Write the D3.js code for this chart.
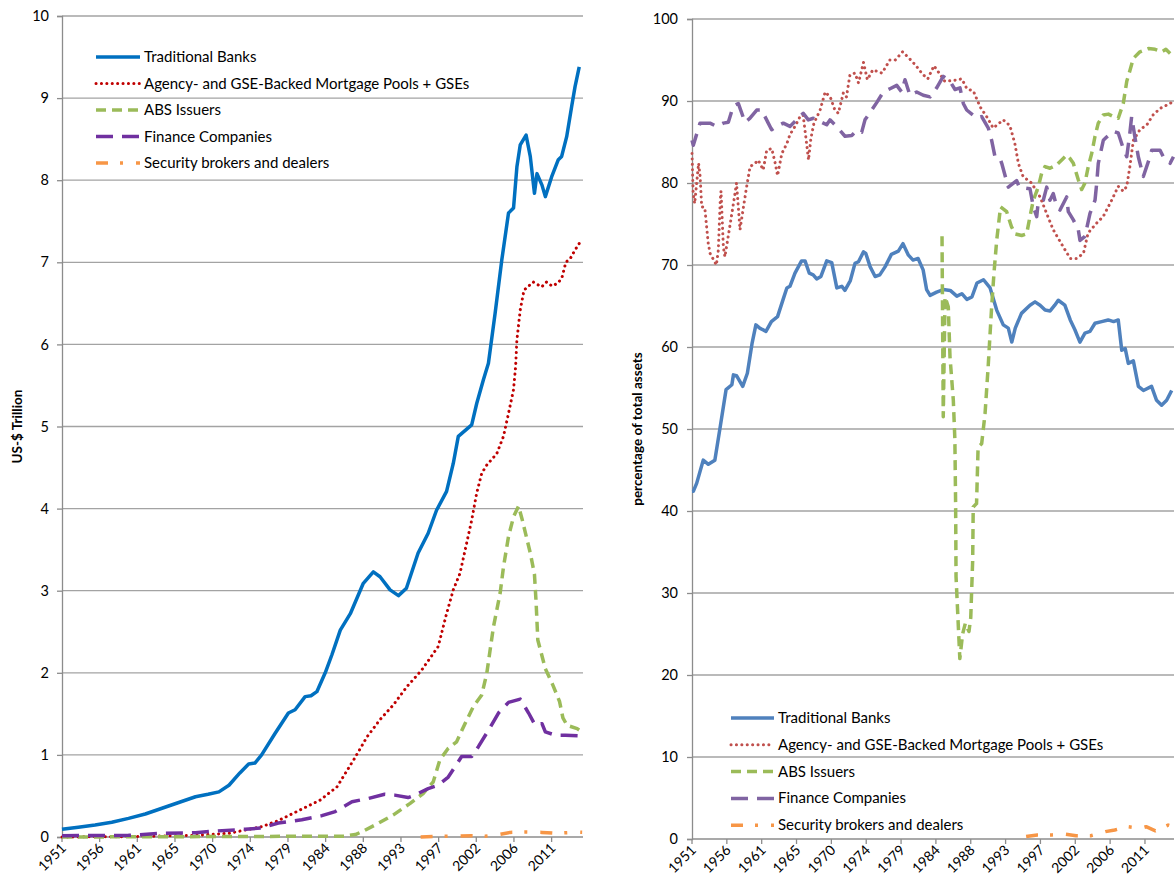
<!DOCTYPE html>
<html>
<head>
<meta charset="utf-8">
<script src="https://cdn.jsdelivr.net/npm/d3@7"></script>
<style>
  body { margin: 0; background: #fff; }
  svg text { font-family: Lato, "Liberation Sans", sans-serif; fill: #000; }
</style>
</head>
<body>
<svg id="chart" width="1176" height="886"></svg>
<script>
// Données : [année, valeur]
var seriesNames = ["Traditional Banks", "Agency- and GSE-Backed Mortgage Pools + GSEs",
  "ABS Issuers", "Finance Companies", "Security brokers and dealers"];
var xTickLabels = ["1951", "1956", "1961", "1965", "1970", "1974", "1979", "1984",
  "1988", "1993", "1997", "2002", "2006", "2011"];

// panneau gauche, en milliers de milliards de dollars
var banksLevel = [[1951.75,0.094],[1953.7,0.12],[1955.7,0.146],[1957.7,0.18],[1959.7,0.227],[1961.7,0.28],
  [1963.7,0.35],[1965.7,0.42],[1967.7,0.49],[1969.2,0.52],[1970.5,0.55],[1971.7,0.63],[1973.0,0.78],
  [1974.05,0.89],[1974.8,0.9],[1975.6,1.0],[1977.2,1.26],[1978.8,1.51],[1979.6,1.55],[1980.8,1.71],
  [1981.5,1.72],[1982.2,1.77],[1983.2,2.0],[1984.0,2.22],[1985.0,2.52],[1986.2,2.72],[1987.75,3.09],
  [1988.95,3.23],[1989.75,3.17],[1990.95,3.01],[1991.95,2.94],[1992.9,3.03],[1994.3,3.46],[1995.5,3.70],
  [1996.5,3.98],[1997.7,4.21],[1998.5,4.55],[1999.1,4.88],[2000.7,5.02],[2001.3,5.28],[2002.1,5.57],
  [2002.7,5.77],[2003.5,6.38],[2004.3,7.03],[2005.1,7.60],[2005.7,7.66],[2006.1,8.16],[2006.5,8.43],
  [2007.2,8.55],[2007.7,8.29],[2008.2,7.84],[2008.5,8.08],[2009.1,7.94],[2009.5,7.80],[2010.25,8.04],
  [2011.05,8.25],[2011.45,8.29],[2012.05,8.53],[2012.65,8.90],[2013.05,9.14],[2013.55,9.38]];
var agencyLevel = [[1951.75,0.0],[1960,0.005],[1967.7,0.02],[1971.7,0.045],[1975.6,0.125],[1977.6,0.2],
  [1980.2,0.33],[1982.6,0.45],[1984.6,0.61],[1986.6,0.94],[1988.2,1.22],[1989.75,1.43],[1991.35,1.61],
  [1992.95,1.83],[1994.7,2.03],[1996.7,2.32],[1997.7,2.72],[1998.5,3.01],[1999.3,3.21],[2000.1,3.58],
  [2000.7,3.86],[2001.3,4.19],[2001.9,4.43],[2002.5,4.53],[2003.7,4.67],[2004.5,4.88],[2005.1,5.16],
  [2005.7,5.45],[2005.95,5.73],[2006.1,6.05],[2006.5,6.42],[2006.95,6.66],[2008.05,6.76],[2009.05,6.70],
  [2009.65,6.76],[2010.3,6.71],[2011.05,6.75],[2011.5,6.82],[2011.95,7.0],[2012.5,7.05],[2013.05,7.15],
  [2013.55,7.23]];
var absLevel = [[1951.75,0],[1985.5,0.01],[1986.8,0.03],[1987.6,0.065],[1989.6,0.17],[1991.35,0.27],
  [1993.35,0.41],[1994.9,0.53],[1996.1,0.67],[1996.9,0.94],[1997.9,1.08],[1998.9,1.16],[1999.9,1.38],
  [2000.9,1.59],[2001.9,1.73],[2002.5,1.99],[2003.3,2.56],[2004.1,2.97],[2004.5,3.29],[2005.1,3.66],
  [2005.7,3.90],[2006.3,4.03],[2006.7,3.88],[2007.7,3.46],[2008.2,3.2],[2008.4,2.85],[2008.6,2.4],
  [2009.5,2.05],[2010.4,1.85],[2011.2,1.65],[2011.6,1.45],[2012.1,1.36],[2013.3,1.32],[2013.6,1.30]];
var financeLevel = [[1951.75,0.016],[1959.7,0.02],[1963.7,0.045],[1967.7,0.053],[1970.1,0.073],
  [1973.65,0.094],[1975.6,0.11],[1977.6,0.17],[1980.4,0.21],[1982.8,0.26],[1984.4,0.31],[1986.4,0.43],
  [1988.4,0.47],[1990.3,0.52],[1991.5,0.51],[1993.1,0.48],[1993.9,0.51],[1995.5,0.59],[1996.7,0.63],
  [1997.9,0.73],[1999.5,0.98],[2000.7,0.98],[2001.5,1.10],[2002.7,1.30],[2003.9,1.51],[2005.1,1.64],
  [2006.5,1.68],[2007.5,1.51],[2008.3,1.36],[2009.1,1.38],[2009.5,1.28],[2010.7,1.24],[2011.9,1.24],
  [2013.7,1.23]];
var brokersLevel = [[1994.6,0.0],[1997.5,0.01],[2000.7,0.015],[2002.3,0.01],[2003.9,0.03],[2005.3,0.056],
  [2007.1,0.06],[2009.1,0.056],[2010.7,0.045],[2013.3,0.06],[2013.9,0.058]];

// panneau droit, en pourcentage des actifs totaux
var banksShare = [[1951.75,42.4],[1951.92,42.4],[1952.36,43.4],[1953.2,46.2],[1953.86,45.7],[1954.7,46.2],
  [1955.4,50.3],[1956.15,54.8],[1956.9,55.4],[1957.1,56.6],[1957.5,56.5],[1958.3,55.2],[1958.9,56.8],
  [1959.5,60.4],[1960.0,62.7],[1960.5,62.3],[1961.3,61.9],[1962.0,63.1],[1962.8,63.7],[1963.55,65.9],
  [1964.0,67.2],[1964.4,67.4],[1965.05,69.0],[1965.9,70.5],[1966.35,70.5],[1966.9,69.0],[1967.4,68.8],
  [1967.85,68.3],[1968.4,68.6],[1969.15,70.5],[1969.8,70.3],[1970.45,67.2],[1971.1,67.4],[1971.5,66.9],
  [1972.2,68.1],[1972.8,70.2],[1973.25,70.4],[1973.9,71.6],[1974.2,71.4],[1974.75,69.8],[1975.4,68.6],
  [1976.0,68.8],[1976.7,69.8],[1977.5,71.3],[1978.4,71.7],[1979.0,72.6],[1979.7,71.2],[1980.3,70.6],
  [1980.95,70.8],[1981.6,69.4],[1982.05,67.0],[1982.5,66.3],[1983.35,66.7],[1984.2,67.0],[1985.1,66.9],
  [1985.95,66.2],[1986.6,66.5],[1987.25,65.8],[1987.9,66.1],[1988.55,67.8],[1989.4,68.2],[1990.25,67.2],
  [1991.1,64.5],[1991.95,62.7],[1992.6,62.3],[1993.05,60.6],[1993.5,62.3],[1994.3,64.1],[1995.4,65.1],
  [1996.05,65.5],[1996.7,65.1],[1997.35,64.5],[1998.0,64.4],[1998.6,65.1],[1999.05,65.7],[1999.9,65.1],
  [2000.6,63.3],[2001.2,62.1],[2001.85,60.6],[2002.5,61.7],[2003.15,61.9],[2003.8,62.9],[2004.65,63.1],
  [2005.5,63.3],[2006.2,63.1],[2006.8,63.3],[2007.25,59.6],[2007.7,59.8],[2008.1,58.0],[2008.75,58.3],
  [2009.4,55.2],[2010.05,54.7],[2011.1,55.2],[2011.75,53.5],[2012.4,52.9],[2013.05,53.5],[2013.7,54.7]];
var agencyShare = [[1951.75,83.6],[1951.9,78.7],[1952.1,77.5],[1952.6,82.4],[1952.8,80.8],[1953.0,77.1],
  [1953.4,77.0],[1953.85,72.6],[1954.1,71.4],[1954.9,70.0],[1955.15,71.8],[1955.4,77.9],[1955.5,79.0],
  [1955.8,72.2],[1956.0,71.0],[1956.7,75.1],[1957.3,78.7],[1957.5,80.0],[1957.95,74.3],[1958.4,77.1],
  [1958.8,79.5],[1959.25,82.0],[1959.9,82.4],[1960.3,82.8],[1960.95,81.6],[1961.4,84.0],[1962.05,84.2],
  [1962.5,82.4],[1962.8,80.9],[1963.35,83.6],[1964.0,84.8],[1964.4,85.9],[1965.05,86.9],[1965.7,88.1],
  [1966.1,88.3],[1966.5,85.2],[1966.8,82.8],[1967.1,85.4],[1967.5,87.3],[1968.3,88.9],[1968.95,91.1],
  [1969.6,90.5],[1970.2,88.9],[1970.65,88.5],[1971.3,91.0],[1971.7,90.5],[1972.15,93.2],[1972.8,93.4],
  [1973.25,92.2],[1973.9,94.7],[1974.4,92.6],[1975.1,93.8],[1976.3,93.4],[1977.3,95.0],[1978.0,95.0],
  [1978.95,96.0],[1979.8,95.2],[1980.6,94.4],[1981.5,93.3],[1982.2,92.7],[1983.0,94.3],[1983.6,93.5],
  [1984.4,92.4],[1985.5,92.5],[1986.6,92.7],[1987.25,91.5],[1988.1,91.2],[1988.95,89.3],[1989.8,88.1],
  [1990.65,86.7],[1991.95,87.7],[1992.8,87.0],[1993.45,84.8],[1993.9,82.4],[1994.5,80.8],[1995.6,80.0],
  [1996.7,78.3],[1997.55,76.3],[1998.4,74.3],[1999.7,72.2],[2000.6,70.8],[2001.4,70.8],[2002.3,71.4],
  [2002.9,73.9],[2004.0,75.1],[2004.85,75.9],[2005.95,77.9],[2006.8,79.6],[2007.45,79.0],[2007.9,79.6],
  [2008.3,82.0],[2008.75,85.2],[2009.6,86.5],[2010.5,87.1],[2011.3,88.3],[2012.2,89.1],[2013.5,89.7],
  [2013.95,90.0]];
var absShare = [[1984.04,73.5],[1984.2,51.5],[1984.43,66.1],[1984.85,64.9],[1985.07,58.8],[1985.5,53.5],
  [1985.7,48.7],[1985.8,40.5],[1985.85,32.0],[1986.34,22.0],[1986.7,25.0],[1987.05,26.3],[1987.52,25.3],
  [1987.75,27.0],[1988.0,34.0],[1988.07,40.5],[1988.5,40.9],[1988.7,47.8],[1989.16,48.2],[1989.6,51.9],
  [1990.0,57.6],[1990.2,60.9],[1990.45,64.9],[1990.75,69.0],[1991.1,73.0],[1991.6,77.1],[1992.39,76.5],
  [1993.0,74.7],[1993.46,73.8],[1994.33,73.6],[1994.97,73.8],[1995.4,75.9],[1995.83,77.9],[1996.47,79.5],
  [1996.91,81.2],[1997.34,82.0],[1997.98,81.8],[1998.85,82.2],[1999.5,82.8],[2000.14,83.4],[2000.57,83.0],
  [2001.0,82.4],[2001.64,80.4],[2002.08,79.2],[2002.5,80.0],[2002.93,82.0],[2003.37,83.6],[2003.8,85.7],
  [2004.22,87.3],[2004.87,88.3],[2005.52,88.4],[2006.16,88.1],[2006.8,87.9],[2007.45,89.7],[2007.9,92.4],
  [2008.3,93.7],[2008.75,95.2],[2009.6,96.0],[2010.7,96.4],[2011.55,96.3],[2012.4,96.0],[2012.95,96.3],
  [2013.5,95.8]];
var financeShare = [[1951.75,85.2],[1951.92,84.6],[1952.78,87.3],[1954.07,87.3],[1954.94,86.9],[1955.8,87.3],
  [1956.44,87.4],[1957.08,89.4],[1957.73,89.7],[1958.6,87.4],[1959.24,87.9],[1960.11,88.9],[1960.75,88.9],
  [1961.6,87.3],[1962.04,86.5],[1962.69,86.9],[1963.54,87.3],[1964.4,86.9],[1965.27,87.7],[1966.12,88.5],
  [1966.77,87.7],[1967.42,87.9],[1968.5,87.4],[1969.15,87.1],[1969.57,87.7],[1970.22,87.1],[1971.51,85.7],
  [1972.38,85.8],[1973.02,86.4],[1973.67,86.2],[1974.09,87.7],[1974.96,88.9],[1975.6,89.8],[1976.46,91.1],
  [1977.32,91.5],[1978.19,91.9],[1978.83,91.1],[1979.26,92.6],[1979.9,90.7],[1980.77,91.1],[1981.62,90.7],
  [1982.49,90.5],[1983.35,91.6],[1984.2,93.0],[1985.07,92.4],[1985.72,91.4],[1986.36,91.6],[1986.79,89.7],
  [1987.23,88.9],[1988.52,87.9],[1989.16,88.1],[1990.02,86.7],[1990.45,85.2],[1990.88,83.2],[1991.53,83.0],
  [1991.75,82.4],[1992.39,80.2],[1992.6,79.5],[1993.68,80.3],[1994.02,79.5],[1995.4,79.3],[1995.83,77.1],
  [1996.27,75.9],[1996.47,77.7],[1997.12,77.9],[1997.56,79.5],[1997.98,77.9],[1998.41,78.7],[1998.85,77.1],
  [1999.28,76.7],[2000.14,78.3],[2000.35,76.5],[2001.0,75.5],[2001.64,74.3],[2001.86,73.0],[2002.5,73.5],
  [2003.15,76.3],[2003.8,77.9],[2004.02,80.0],[2004.22,82.4],[2004.87,85.2],[2005.3,85.6],[2006.16,86.3],
  [2006.8,86.1],[2007.45,84.2],[2007.9,83.2],[2008.3,86.1],[2008.53,88.1],[2008.95,85.6],[2009.39,83.2],
  [2010.04,80.8],[2010.9,83.2],[2011.12,84.0],[2012.2,84.0],[2012.62,83.2],[2013.5,82.4],[2013.93,83.2]];
var brokersShare = [[1994.9,0.3],[1996.35,0.5],[1998.25,0.5],[1999.9,0.6],[2001.35,0.4],[2003.25,0.4],
  [2005.15,0.9],[2006.35,1.1],[2008.0,1.5],[2009.7,1.3],[2010.4,1.5],[2011.6,1.0],[2013.25,1.7],[2013.95,1.5]];

var toile = d3.select("#chart");
var firstYear = 1951.75, lastYear = 2014.0, tickStep = 4.5;

// style de chaque série : couleurs gauche / droite, pointillés
var styles = [
  { left: "#0070C0", right: "#4F81BD", dash: null, cap: "butt", width: 3.5 },
  { left: "#C00000", right: "#C0504D", dash: "0.1 5.3", cap: "round", width: 3 },
  { left: "#9BBB59", right: "#9BBB59", dash: "10 6", cap: "butt", width: 3.5 },
  { left: "#7030A0", right: "#8064A2", dash: "17 9", cap: "butt", width: 3.5 },
  { left: "#F79646", right: "#F79646", dash: "12 12 3 13", cap: "butt", width: 3.5 }
];

function drawpanel (opts){
  var x = d3.scaleLinear().domain([firstYear, lastYear]).range([opts.x0, opts.x1]);
  var y = d3.scaleLinear().domain([0, opts.ymax]).range([opts.y0, opts.y1]);
  var g = toile.append("g");

  // lignes de grille
  g.selectAll(".grid").data(y.ticks(opts.ymax / opts.ystep).filter(function(d){ return d > 0; }))
    .enter().append("line")
    .attr("x1", opts.x0).attr("x2", opts.x1)
    .attr("y1", function(d){ return y(d); }).attr("y2", function(d){ return y(d); })
    .attr("stroke", "#a3a3a3").attr("stroke-width", 1.3);

  // axe vertical
  var yAxis = d3.axisLeft(y).ticks(opts.ymax / opts.ystep).tickSize(5).tickPadding(opts.pad);
  var ga = g.append("g").attr("transform", "translate(" + opts.x0 + ",0)").call(yAxis);
  ga.select(".domain").attr("stroke", "#8c8c8c").attr("stroke-width", 1.3);
  ga.selectAll(".tick line").attr("stroke", "#8c8c8c").attr("stroke-width", 1.3);
  ga.selectAll(".tick text").attr("font-size", "14.5px").attr("font-family", "Lato, sans-serif");

  // axe horizontal
  var tickPos = xTickLabels.map(function(d, i){ return firstYear + i * tickStep; });
  g.append("line")
    .attr("x1", opts.x0).attr("x2", opts.x1)
    .attr("y1", opts.y0).attr("y2", opts.y0)
    .attr("stroke", "#8c8c8c").attr("stroke-width", 1.3);
  g.selectAll(".xtick").data(tickPos).enter().append("line")
    .attr("x1", function(d){ return x(d); }).attr("x2", function(d){ return x(d); })
    .attr("y1", opts.y0).attr("y2", opts.y0 + 5)
    .attr("stroke", "#8c8c8c").attr("stroke-width", 1.3);
  g.selectAll(".xlab").data(tickPos).enter().append("text")
    .attr("text-anchor", "end")
    .attr("font-size", "14px")
    .attr("transform", function(d){ return "translate(" + (x(d) + 5) + "," + (opts.y0 + 12) + ") rotate(-45)"; })
    .text(function(d, i){ return xTickLabels[i]; });

  // titre de l'axe
  g.append("text")
    .attr("transform", "translate(" + opts.titlex + "," + ((opts.y0 + opts.y1) / 2) + ") rotate(-90)")
    .attr("text-anchor", "middle")
    .attr("font-size", "13.5px").attr("font-weight", "bold")
    .text(opts.title);

  // courbes
  var line = d3.line().x(function(d){ return x(d[0]); }).y(function(d){ return y(d[1]); });
  opts.series.forEach(function(s, i){
    var st = styles[i];
    g.append("path").datum(s)
      .attr("d", line)
      .attr("fill", "none")
      .attr("stroke", st[opts.side])
      .attr("stroke-width", st.width)
      .attr("stroke-linecap", st.cap)
      .attr("stroke-linejoin", "round")
      .attr("stroke-dasharray", st.dash);
  });

  // légende
  seriesNames.forEach(function(name, i){
    var st = styles[i];
    var ly = opts.legy + i * opts.legstep;
    g.append("line")
      .attr("x1", opts.legx).attr("x2", opts.legx + opts.legw)
      .attr("y1", ly).attr("y2", ly)
      .attr("stroke", st[opts.side])
      .attr("stroke-width", st.width)
      .attr("stroke-linecap", st.cap)
      .attr("stroke-dasharray", st.dash);
    g.append("text")
      .attr("x", opts.legx + opts.legw + 4)
      .attr("y", ly + 5)
      .attr("font-size", "15px")
      .text(name);
  });
}

drawpanel({ side: "left", x0: 62, x1: 583, y0: 837, y1: 16, ymax: 10, ystep: 1, pad: 8,
  title: "US-$ Trillion", titlex: 22, legx: 96, legw: 44, legy: 57, legstep: 26.5,
  series: [banksLevel, agencyLevel, absLevel, financeLevel, brokersLevel] });
drawpanel({ side: "right", x0: 692, x1: 1174, y0: 839, y1: 19, ymax: 100, ystep: 10, pad: 9,
  title: "percentage of total assets", titlex: 642, legx: 731, legw: 43, legy: 718, legstep: 26.8,
  series: [banksShare, agencyShare, absShare, financeShare, brokersShare] });
</script>
</body>
</html>
